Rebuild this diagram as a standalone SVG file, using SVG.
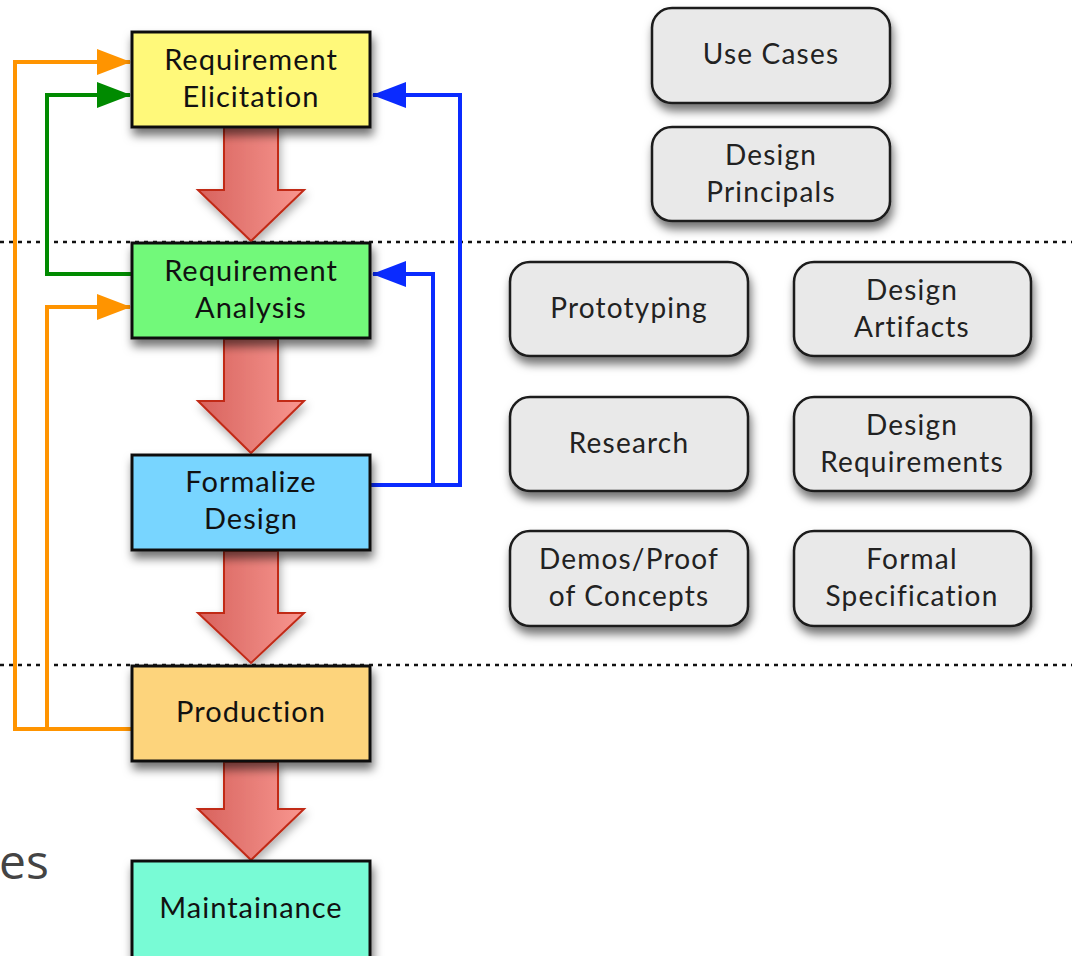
<svg xmlns="http://www.w3.org/2000/svg" width="1072" height="956" viewBox="0 0 1072 956">
<defs>
<style>
.box{stroke:#111;stroke-width:3;filter:url(#sh)}
.gbox{fill:#e9e9e9;stroke:#1a1a1a;stroke-width:2.5;filter:url(#sh)}
.t{font-family:Lato,"Liberation Sans",sans-serif;font-size:29px;fill:#111;text-anchor:middle;letter-spacing:1px;font-variant-ligatures:none}
.gt{font-family:Lato,"Liberation Sans",sans-serif;font-size:28px;fill:#222;text-anchor:middle;letter-spacing:1.2px;font-variant-ligatures:none}
.dot{stroke:#111;stroke-width:2.5;stroke-dasharray:4 5;fill:none}
.flow{fill:url(#rg);stroke:#c12a18;stroke-width:2;filter:url(#sh2)}
.c{fill:none;stroke-width:4}
</style>
<linearGradient id="rg" x1="0" y1="0" x2="1" y2="0">
<stop offset="0" stop-color="#d8625d"/>
<stop offset="0.5" stop-color="#e77d77"/>
<stop offset="1" stop-color="#f9968f"/>
</linearGradient>
<filter id="sh" x="-20%" y="-20%" width="150%" height="160%">
<feDropShadow dx="2" dy="7" stdDeviation="5" flood-color="#000" flood-opacity="0.55"/>
</filter>
<filter id="sh2" x="-30%" y="-20%" width="160%" height="150%">
<feDropShadow dx="2" dy="5" stdDeviation="4" flood-color="#000" flood-opacity="0.3"/>
</filter>
<marker id="ao" viewBox="0 0 34 26" markerWidth="34" markerHeight="26" refX="33" refY="13" markerUnits="userSpaceOnUse" orient="auto"><path d="M0,0 L34,13 L0,26 Z" fill="#ff9400"/></marker>
<marker id="ag" viewBox="0 0 34 26" markerWidth="34" markerHeight="26" refX="33" refY="13" markerUnits="userSpaceOnUse" orient="auto"><path d="M0,0 L34,13 L0,26 Z" fill="#008a00"/></marker>
<marker id="ab" viewBox="0 0 34 26" markerWidth="34" markerHeight="26" refX="33" refY="13" markerUnits="userSpaceOnUse" orient="auto"><path d="M0,0 L34,13 L0,26 Z" fill="#0a2bff"/></marker>
</defs>
<rect width="1072" height="956" fill="#fff"/>
<g id="separators">
<line class="dot" x1="0" y1="242" x2="1072" y2="242"/>
<line class="dot" x1="0" y1="665" x2="1072" y2="665"/>
</g>
<text x="-1" y="879" font-family="'Open Sans','DejaVu Sans',sans-serif" font-size="48" fill="#444">es</text>
<g id="connectors">
<path class="c" stroke="#ff9400" d="M132,729 L15,729 L15,62 L130,62" marker-end="url(#ao)"/>
<path class="c" stroke="#ff9400" d="M47,729 L47,307 L130,307" marker-end="url(#ao)"/>
<path class="c" stroke="#008a00" d="M132,274 L47,274 L47,95 L130,95" marker-end="url(#ag)"/>
<path class="c" stroke="#0a2bff" d="M370,485 L460,485 L460,95 L373,95" marker-end="url(#ab)"/>
<path class="c" stroke="#0a2bff" d="M433,485 L433,274 L373,274" marker-end="url(#ab)"/>
<path class="flow" d="M224,127 L278,127 L278,190 L304,190 L251,241 L198,190 L224,190 Z"/>
<path class="flow" d="M224,339 L278,339 L278,401 L304,401 L251,453 L198,401 L224,401 Z"/>
<path class="flow" d="M224,551 L278,551 L278,613 L304,613 L251,663 L198,613 L224,613 Z"/>
<path class="flow" d="M224,762 L278,762 L278,809 L304,809 L251,860 L198,809 L224,809 Z"/>
</g>
<g id="req-elicitation"><rect class="box" x="132" y="32" width="238" height="95" fill="#fff97a"/><text class="t" x="251" y="70">Requirement</text><text class="t" x="251" y="107">Elicitation</text></g>
<g id="req-analysis"><rect class="box" x="132" y="243" width="238" height="95" fill="#72f97a"/><text class="t" x="251" y="281">Requirement</text><text class="t" x="251" y="318">Analysis</text></g>
<g id="formalize-design"><rect class="box" x="132" y="455" width="238" height="95" fill="#78d5ff"/><text class="t" x="251" y="492">Formalize</text><text class="t" x="251" y="529">Design</text></g>
<g id="production"><rect class="box" x="132" y="666" width="238" height="95" fill="#fdd47b"/><text class="t" x="251" y="722">Production</text></g>
<g id="maintainance"><rect class="box" x="132" y="861" width="238" height="100" fill="#78fbd5"/><text class="t" x="251" y="918">Maintainance</text></g>
<g id="use-cases"><rect class="gbox" x="652" y="8" width="238" height="95" rx="20"/><text class="gt" x="771" y="64">Use Cases</text></g>
<g id="design-principals"><rect class="gbox" x="652" y="127" width="238" height="94" rx="20"/><text class="gt" x="771" y="165">Design</text><text class="gt" x="771" y="202">Principals</text></g>
<g id="prototyping"><rect class="gbox" x="510" y="262" width="238" height="94" rx="20"/><text class="gt" x="629" y="318">Prototyping</text></g>
<g id="design-artifacts"><rect class="gbox" x="794" y="262" width="237" height="94" rx="20"/><text class="gt" x="912" y="300">Design</text><text class="gt" x="912" y="337">Artifacts</text></g>
<g id="research"><rect class="gbox" x="510" y="397" width="238" height="94" rx="20"/><text class="gt" x="629" y="453">Research</text></g>
<g id="design-requirements"><rect class="gbox" x="794" y="397" width="237" height="94" rx="20"/><text class="gt" x="912" y="435">Design</text><text class="gt" x="912" y="472">Requirements</text></g>
<g id="demos"><rect class="gbox" x="510" y="531" width="238" height="95" rx="20"/><text class="gt" x="629" y="569">Demos/Proof</text><text class="gt" x="629" y="606">of Concepts</text></g>
<g id="formal-spec"><rect class="gbox" x="794" y="531" width="237" height="95" rx="20"/><text class="gt" x="912" y="569">Formal</text><text class="gt" x="912" y="606">Specification</text></g>
</svg>
